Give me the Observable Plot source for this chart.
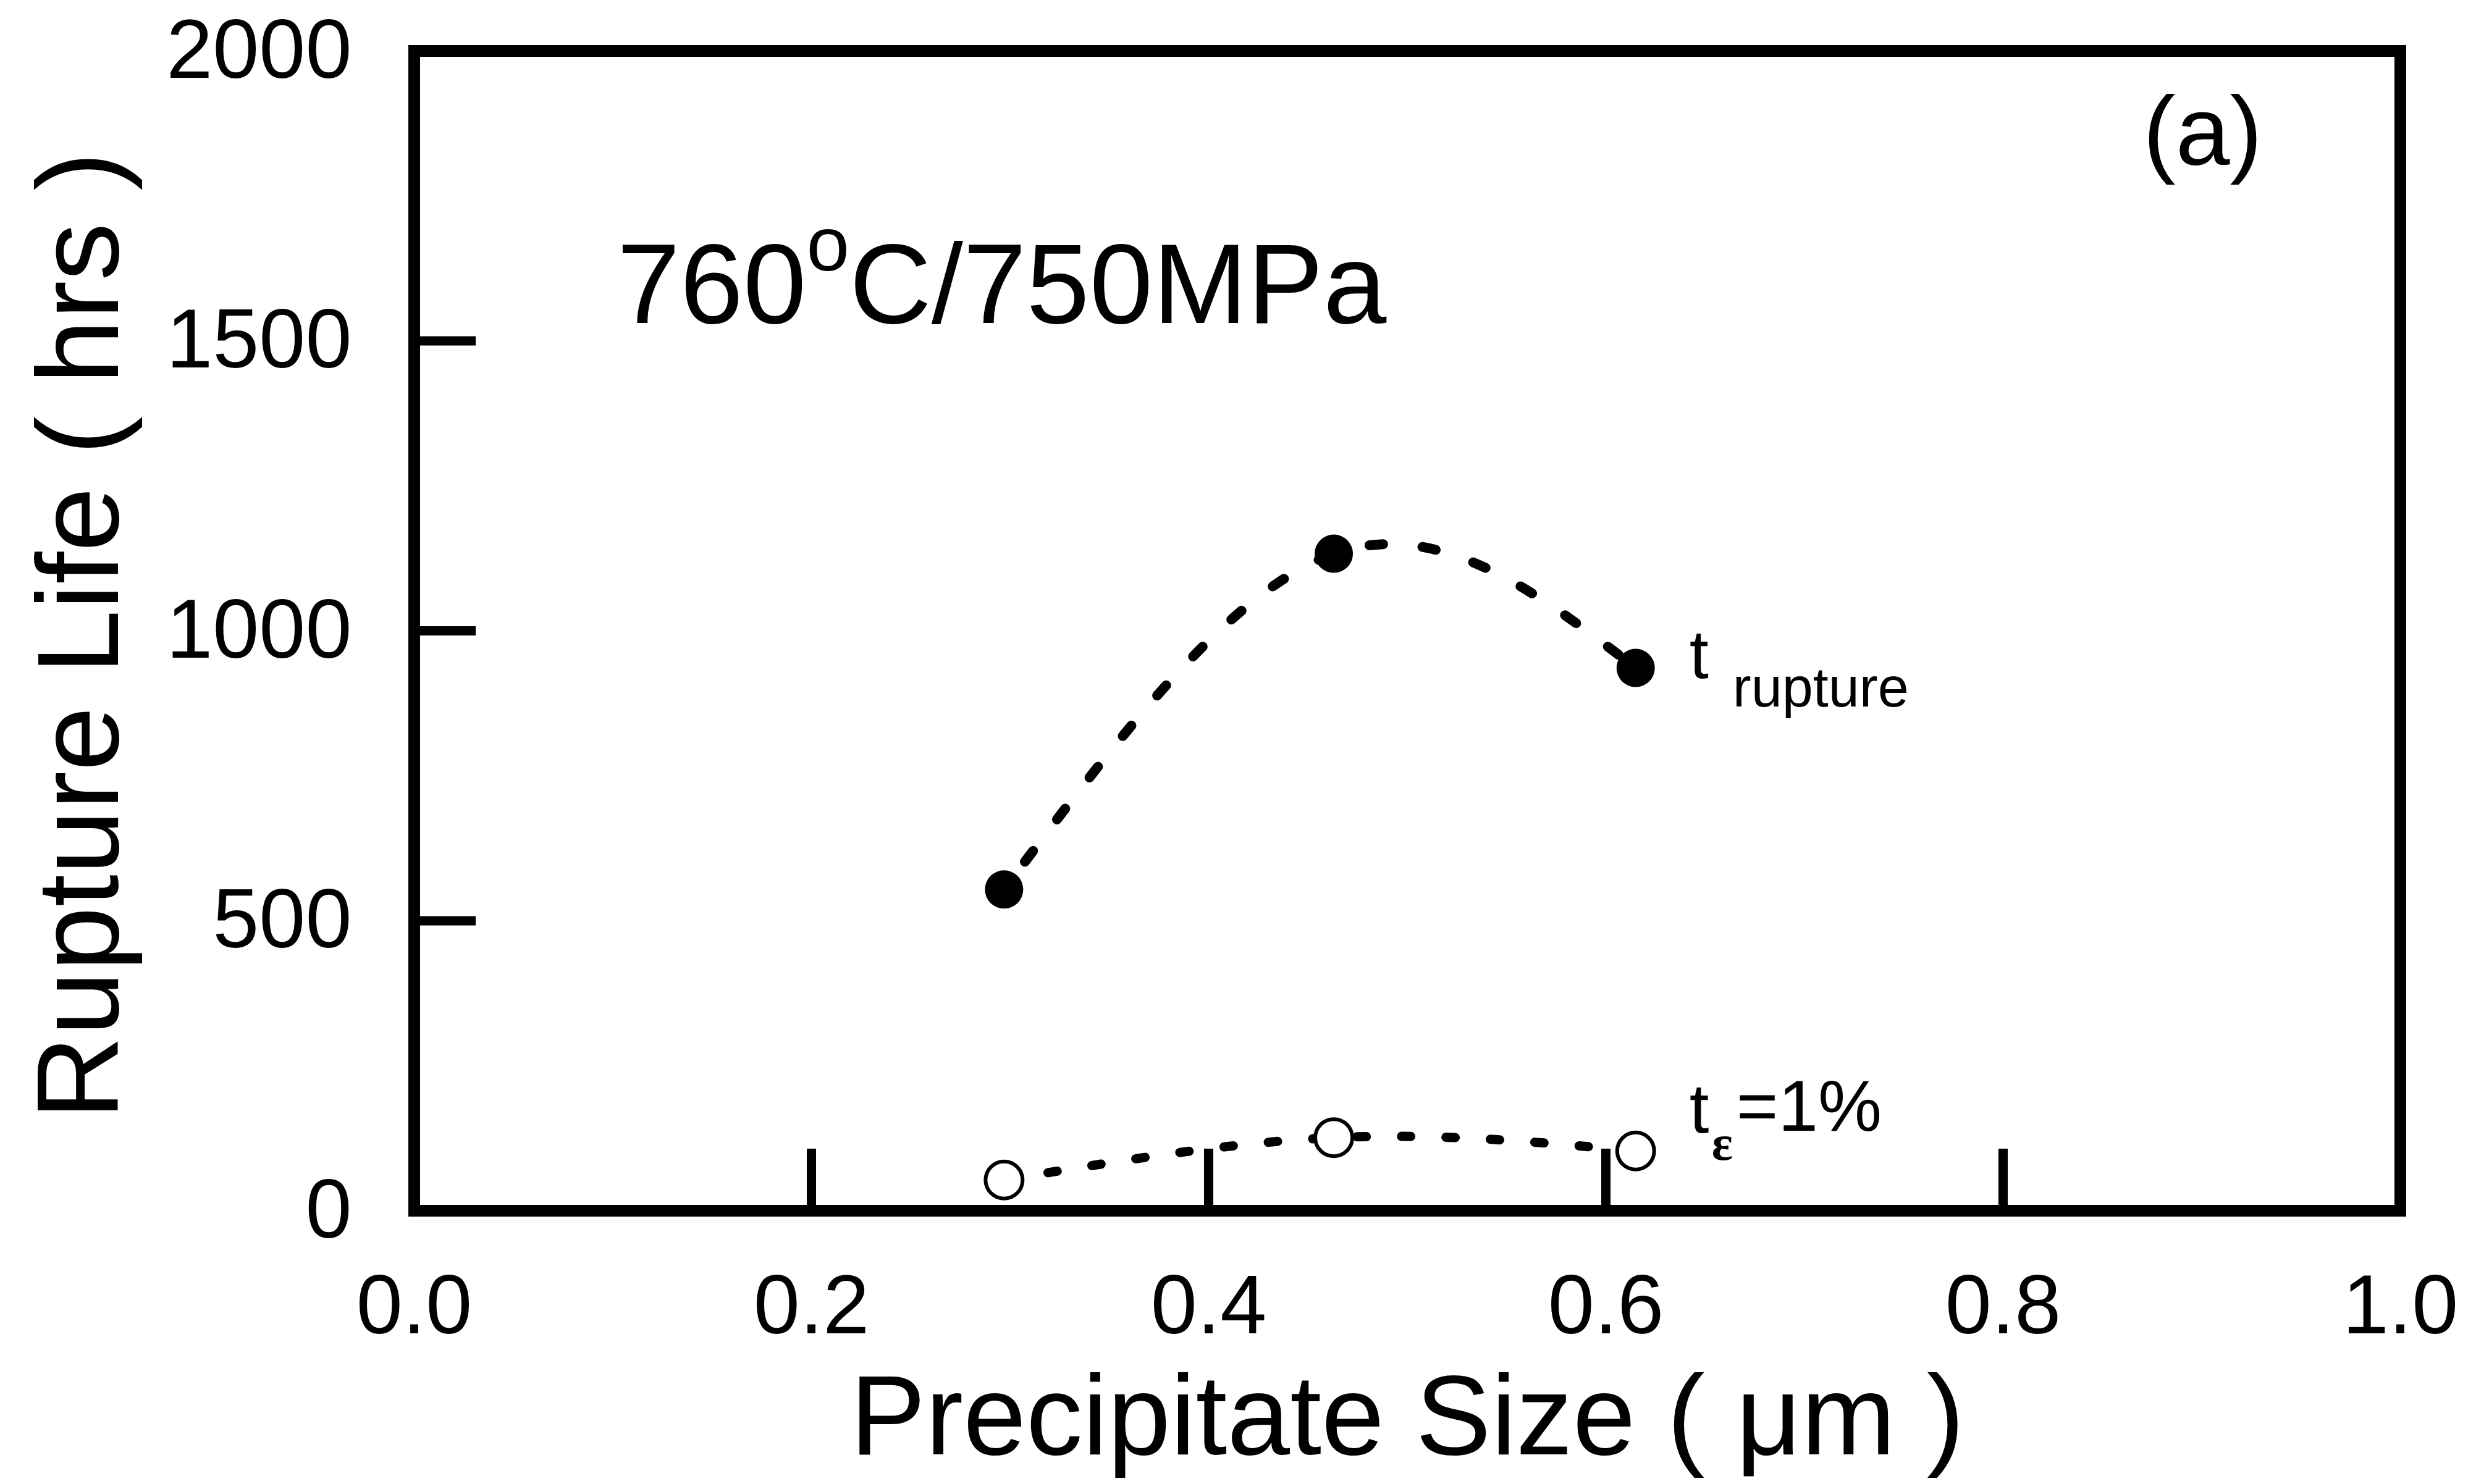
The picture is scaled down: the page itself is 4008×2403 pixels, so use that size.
<!DOCTYPE html>
<html>
<head>
<meta charset="utf-8">
<script src="https://cdn.jsdelivr.net/npm/d3@7"></script>
<script src="https://cdn.jsdelivr.net/npm/@observablehq/plot@0.6"></script>
<style>
  html, body { margin: 0; padding: 0; background: #fff; }
  #chart svg { display: block; }
</style>
</head>
<body>
<div id="chart"></div>
<script>
// ---- data ----
const sizeRupture = [0.297, 0.463, 0.615];   // precipitate size (µm), filled circles
const tRupture    = [554, 1133, 936];        // rupture life (hrs)
const sizeStrain  = [0.297, 0.463, 0.615];   // precipitate size (µm), open circles
const tStrain     = [53, 126, 103];          // time to 1% strain (hrs)

const xTickValues = [0, 0.2, 0.4, 0.6, 0.8, 1.0];
const yTickValues = [0, 500, 1000, 1500, 2000];
const xInnerTicks = [0.2, 0.4, 0.6, 0.8];
const yInnerTicks = [500, 1000, 1500];
const xDomain = [0, 1];
const yDomain = [0, 2000];

const xLabel = "Precipitate Size ( \u03bcm )";
const yLabel = "Rupture Life ( hrs )";
const conditionText = "760\u00b0C/750MPa";
const conditionPos = [0.102, 1531];
const panelText = "(a)";
const panelPos = [0.9005, 1805];
const ruptureLabel = "t rupture";
const strainLabel = "t\u03b5=1%";

// ---- layout ----
const W = 4008, H = 2403;
const mL = 670, mR = 123, mT = 82, mB = 443;
const frameW = W - mL - mR, frameH = H - mT - mB;
const tickLen = 100;
const font = "'Liberation Sans', Arial, Helvetica, sans-serif";

const rupture = sizeRupture.map((x, i) => ({x, y: tRupture[i]}));
const strain = sizeStrain.map((x, i) => ({x, y: tStrain[i]}));

const chart = Plot.plot({
  width: W,
  height: H,
  marginLeft: mL, marginRight: mR, marginTop: mT, marginBottom: mB,
  style: {fontFamily: font, background: "#fff", color: "#000", overflow: "visible"},
  x: {domain: xDomain, label: null},
  y: {domain: yDomain, label: null},
  marks: [
    Plot.axisX({ticks: xTickValues, tickSize: 0, tickPadding: 103, tickFormat: d3.format(".1f"), fontSize: 135, label: null}),
    Plot.axisY({ticks: yTickValues, tickSize: 0, tickPadding: 101, tickFormat: d3.format("d"), fontSize: 135, label: null}),
    Plot.tickX(xInnerTicks, {x: d => d, stroke: "#000", strokeWidth: 15, insetTop: frameH - tickLen}),
    Plot.tickY(yInnerTicks, {y: d => d, stroke: "#000", strokeWidth: 15, insetRight: frameW - tickLen}),
    Plot.frame({stroke: "#000", strokeWidth: 19}),
    Plot.line(rupture, {x: "x", y: "y", curve: "natural", stroke: "#000", strokeWidth: 16, strokeDasharray: "22,64", strokeDashoffset: 30}),
    Plot.line(strain, {x: "x", y: "y", curve: "natural", stroke: "#000", strokeWidth: 15, strokeDasharray: "15,57"}),
    Plot.dot(rupture, {x: "x", y: "y", r: 31, fill: "#000", stroke: null}),
    Plot.dot(strain, {x: "x", y: "y", r: 30, fill: "#fff", stroke: "#000", strokeWidth: 6}),
    Plot.text([conditionText], {x: () => conditionPos[0], y: () => conditionPos[1], text: d => d, textAnchor: "start", lineAnchor: "bottom", fontSize: 184}),
    Plot.text([panelText], {x: () => panelPos[0], y: () => panelPos[1], text: d => d, textAnchor: "middle", lineAnchor: "bottom", fontSize: 158}),
    Plot.text([ruptureLabel], {x: () => sizeRupture[2], y: () => tRupture[2], text: d => d, textAnchor: "start", lineAnchor: "bottom", fontSize: 112, dx: 87, dy: 16}),
    Plot.text([strainLabel], {x: () => sizeStrain[2], y: () => tStrain[2], text: d => d, textAnchor: "start", lineAnchor: "bottom", fontSize: 114, dx: 87, dy: -30}),
    Plot.text([xLabel], {frameAnchor: "bottom", text: d => d, textAnchor: "middle", lineAnchor: "bottom", fontSize: 183, dy: 394}),
    Plot.text([yLabel], {frameAnchor: "left", text: d => d, textAnchor: "middle", lineAnchor: "bottom", rotate: -90, fontSize: 188, dx: -480, dy: 8})
  ]
});

document.getElementById("chart").appendChild(chart);

// ---- rich text (superscripts / subscripts) ----
function rich(key, parts) {
  d3.select(chart).selectAll("text")
    .filter(function() { return this.textContent === key; })
    .each(function() {
      const t = d3.select(this);
      t.text(null);
      for (const p of parts) {
        const s = t.append("tspan").text(p.text);
        for (const a of ["x", "y", "dy", "font-size", "font-family", "font-weight"]) {
          if (p[a] != null) s.attr(a, p[a]);
        }
      }
    });
}
rich(conditionText, [
  {text: "760"},
  {text: "o", "font-size": 125, dy: -85},
  {text: "C/750MPa", dy: 85}
]);
rich(ruptureLabel, [
  {text: "t", x: 0, y: 0},
  {text: "rupture", x: 70, y: 46, "font-size": 90}
]);
rich(strainLabel, [
  {text: "t", x: 0, y: 0},
  {text: "\u03b5", x: 36, y: 44, "font-size": 80, "font-family": "'Liberation Serif', 'DejaVu Serif', serif", "font-weight": "bold"},
  {text: "=1%", x: 76, y: -3, "font-size": 116}
]);
</script>
</body>
</html>
